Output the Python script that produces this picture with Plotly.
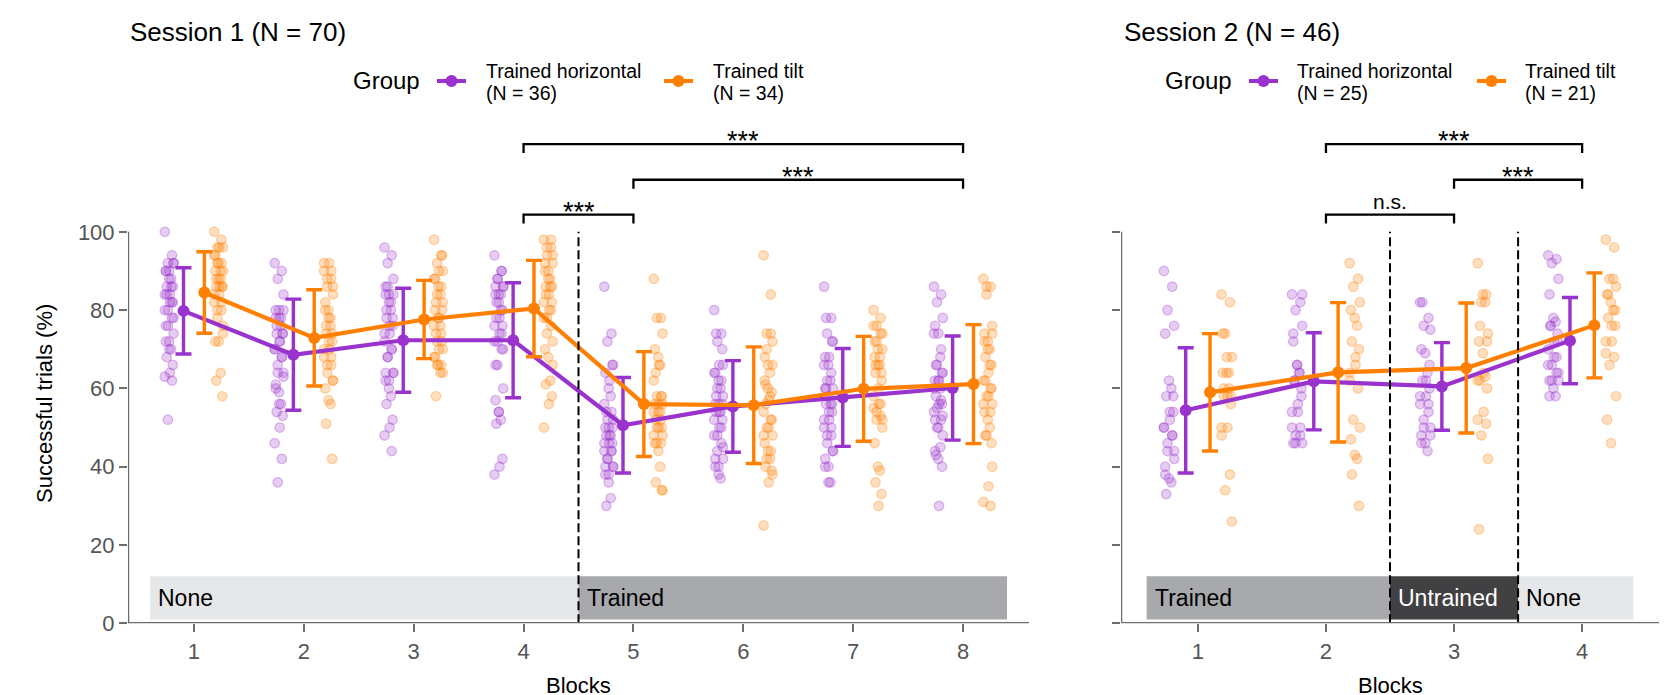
import plotly.graph_objects as go

# ---------------- data ----------------
BLOCKS_S1 = [1, 2, 3, 4, 5, 6, 7, 8]
BLOCKS_S2 = [1, 2, 3, 4]
GROUPS = ["Trained horizontal", "Trained tilt"]
S1_N = [36, 34]
S2_N = [25, 21]

S1_H_MEAN = [79.8, 68.6, 72.3, 72.3, 50.6, 55.4, 57.7, 60.1]
S1_H_SD = [11.0, 14.2, 13.3, 14.7, 12.2, 11.7, 12.5, 13.3]
S1_T_MEAN = [84.5, 72.9, 77.6, 80.4, 56.0, 55.7, 59.9, 61.1]
S1_T_SD = [10.4, 12.3, 10.0, 12.3, 13.4, 14.9, 13.4, 15.2]
S2_H_MEAN = [54.4, 61.8, 60.5, 72.2]
S2_H_SD = [16.0, 12.4, 11.2, 11.0]
S2_T_MEAN = [59.0, 64.1, 65.2, 76.1]
S2_T_SD = [15.0, 17.8, 16.6, 13.4]

S1_H_PTS = [
    [100, 94, 92, 92, 90, 88, 86, 84, 82, 82, 80, 78, 76, 74, 72, 70, 70, 68, 66, 64, 63, 62, 52, 92, 90, 90, 88, 86, 86, 84, 84, 82, 80, 78, 76, 72],
    [92, 90, 88, 84, 80, 80, 78, 76, 74, 72, 70, 68, 64, 63, 61, 59, 56, 54, 53, 50, 46, 42, 36, 80, 78, 78, 76, 74, 74, 72, 70, 68, 66, 64, 60, 56],
    [96, 94, 92, 88, 86, 84, 82, 80, 78, 76, 74, 70, 68, 64, 62, 60, 58, 56, 52, 50, 48, 44, 86, 84, 84, 82, 80, 78, 76, 74, 72, 70, 68, 64, 64, 62],
    [94, 90, 88, 86, 84, 82, 80, 78, 76, 74, 72, 70, 66, 60, 57, 54, 52, 51, 42, 40, 38, 90, 88, 86, 86, 84, 84, 82, 80, 78, 76, 74, 72, 70, 66, 54],
    [86, 74, 72, 66, 64, 60, 58, 54, 50, 48, 46, 44, 42, 40, 38, 36, 32, 30, 66, 62, 56, 54, 52, 52, 50, 50, 48, 48, 46, 46, 44, 44, 42, 40, 40, 38],
    [80, 74, 72, 66, 64, 62, 60, 58, 56, 54, 52, 50, 48, 45, 42, 40, 37, 74, 70, 66, 64, 62, 60, 58, 56, 56, 54, 54, 52, 50, 48, 46, 44, 42, 40, 38],
    [86, 78, 74, 72, 68, 66, 62, 60, 56, 54, 52, 50, 48, 44, 42, 40, 36, 78, 72, 68, 66, 64, 62, 60, 60, 58, 56, 56, 54, 52, 50, 48, 46, 44, 40, 36],
    [86, 84, 82, 78, 76, 74, 68, 66, 64, 62, 60, 57, 55, 53, 52, 50, 45, 43, 40, 30, 74, 70, 66, 64, 62, 62, 60, 58, 56, 56, 54, 52, 50, 48, 44, 42],
]
S1_T_PTS = [
    [100, 98, 96, 96, 94, 92, 90, 88, 86, 86, 84, 82, 80, 74, 72, 72, 64, 62, 58, 96, 94, 92, 92, 90, 90, 88, 88, 86, 86, 84, 82, 80, 78, 76],
    [92, 90, 88, 86, 80, 78, 76, 74, 72, 70, 68, 66, 64, 62, 60, 57, 56, 51, 42, 92, 90, 88, 86, 84, 82, 80, 78, 76, 74, 72, 70, 68, 66, 62],
    [98, 94, 92, 90, 88, 86, 84, 82, 80, 78, 76, 74, 72, 70, 68, 66, 64, 58, 94, 90, 88, 86, 84, 82, 80, 78, 76, 74, 72, 70, 68, 66, 66, 64],
    [98, 96, 94, 92, 90, 88, 86, 84, 82, 80, 78, 76, 74, 72, 70, 68, 62, 61, 58, 56, 50, 98, 96, 94, 92, 90, 88, 86, 86, 84, 82, 80, 78, 66],
    [88, 78, 78, 74, 70, 68, 66, 64, 58, 56, 54, 52, 50, 48, 46, 44, 40, 36, 34, 66, 62, 58, 58, 56, 56, 54, 54, 52, 50, 50, 48, 46, 46, 34],
    [94, 84, 74, 72, 68, 66, 64, 61, 59, 57, 54, 52, 50, 48, 46, 44, 42, 40, 39, 36, 25, 74, 70, 66, 62, 60, 58, 56, 52, 50, 48, 44, 42, 38],
    [80, 78, 76, 74, 72, 70, 68, 66, 64, 56, 55, 53, 52, 50, 46, 40, 39, 36, 33, 30, 76, 74, 72, 70, 68, 66, 66, 64, 62, 60, 58, 56, 54, 52],
    [88, 86, 84, 76, 74, 72, 70, 68, 66, 64, 62, 60, 58, 56, 54, 52, 50, 48, 46, 35, 31, 30, 86, 74, 72, 70, 66, 62, 60, 58, 56, 54, 48, 40],
]
S2_H_PTS = [
    [90, 86, 80, 76, 74, 62, 60, 58, 54, 52, 50, 48, 46, 44, 40, 37, 36, 33, 58, 54, 50, 48, 44, 42, 38],
    [84, 82, 80, 76, 74, 66, 64, 62, 58, 54, 50, 48, 46, 84, 72, 66, 64, 62, 60, 56, 54, 50, 48, 46, 46],
    [82, 78, 76, 75, 70, 69, 64, 62, 60, 58, 56, 54, 52, 50, 48, 46, 44, 82, 66, 62, 58, 56, 50, 48, 46],
    [94, 93, 92, 88, 84, 78, 77, 76, 74, 72, 70, 68, 66, 64, 62, 60, 58, 76, 72, 68, 66, 64, 62, 62, 58],
]
S2_T_PTS = [
    [84, 82, 74, 68, 64, 64, 60, 58, 56, 50, 48, 38, 34, 26, 74, 68, 64, 60, 58, 58, 50],
    [92, 88, 86, 82, 80, 78, 76, 72, 70, 66, 62, 60, 52, 50, 47, 43, 42, 38, 30, 68, 64],
    [92, 84, 82, 74, 72, 69, 63, 62, 60, 54, 52, 51, 48, 42, 24, 84, 82, 76, 72, 64, 62],
    [98, 96, 88, 86, 84, 82, 80, 78, 76, 72, 69, 68, 66, 58, 52, 46, 88, 84, 80, 76, 72],
]

Y_TICKS = [0, 20, 40, 60, 80, 100]

# condition bands: (start, end, label)
S1_BANDS = [(0.6, 4.5, "None"), (4.5, 8.4, "Trained")]
S2_BANDS = [(0.6, 2.5, "Trained"), (2.5, 3.5, "Untrained"), (3.5, 4.4, "None")]
S1_DIVIDERS = [4.5]
S2_DIVIDERS = [2.5, 3.5]

# significance brackets: (x_from, x_to, level y, label)
S1_SIG = [(4, 8, 122.4, "***"), (5, 8, 113.3, "***"), (4, 5, 104.4, "***")]
S2_SIG = [(2, 4, 122.4, "***"), (3, 4, 113.3, "***"), (2, 3, 104.4, "n.s.")]

# ---------------- style ----------------
W, H = 1668, 695
FONT = "Liberation Sans, Arial, Helvetica, sans-serif"
PURPLE = "#9A32CD"
ORANGE = "#FF7F00"
PURPLE_A = "rgba(154,50,205,0.25)"
ORANGE_A = "rgba(255,127,0,0.25)"
PURPLE_L = "rgba(154,50,205,0.32)"
ORANGE_L = "rgba(255,127,0,0.32)"
AXIS_COL = "#6E6E6E"
TICK_TXT = "#555555"
BAND_COLS = {"None": "#E6E7E8", "Trained": "#A7A9AC", "Untrained": "#414042"}
BAND_TXT = {"None": "black", "Trained": "black", "Untrained": "white"}
JIT = [-0.04, 0.025, -0.012, 0.04, -0.03, 0.0, 0.018, -0.022, 0.033, 0.006]
PT_OFF = 0.225
MEAN_OFF = 0.095

Y0_PX = 615.3
PX_PER_UNIT = 3.915
Y_RANGE = [0, 130]
ydom = [1 - Y0_PX / H, 1 - (Y0_PX - Y_RANGE[1] * PX_PER_UNIT) / H]


def px(x):
    return x / W


def py(y):
    return 1 - y / H


fig = go.Figure()


def add_panel(xa, ya, blocks, h_pts, t_pts, h_mean, h_sd, t_mean, t_sd):
    for pts, sgn, fc, lc in [(h_pts, -1, PURPLE_A, PURPLE_L), (t_pts, 1, ORANGE_A, ORANGE_L)]:
        xs, ys = [], []
        for b, vals in zip(blocks, pts):
            for i, v in enumerate(vals):
                xs.append(b + sgn * PT_OFF + JIT[i % len(JIT)])
                ys.append(v)
        fig.add_trace(go.Scatter(
            x=xs, y=ys, mode="markers", xaxis=xa, yaxis=ya, showlegend=False,
            marker=dict(size=9.5, color=fc, line=dict(color=lc, width=1.2)),
            hoverinfo="skip"))
    for mean, sd, sgn, col in [(h_mean, h_sd, -1, PURPLE), (t_mean, t_sd, 1, ORANGE)]:
        fig.add_trace(go.Scatter(
            x=[b + sgn * MEAN_OFF for b in blocks], y=mean, mode="lines+markers",
            xaxis=xa, yaxis=ya, showlegend=False,
            line=dict(color=col, width=4.2),
            marker=dict(size=12, color=col),
            error_y=dict(type="data", array=sd, color=col, thickness=3.4, width=8)))


add_panel("x", "y", BLOCKS_S1, S1_H_PTS, S1_T_PTS, S1_H_MEAN, S1_H_SD, S1_T_MEAN, S1_T_SD)
add_panel("x2", "y2", BLOCKS_S2, S2_H_PTS, S2_T_PTS, S2_H_MEAN, S2_H_SD, S2_T_MEAN, S2_T_SD)

shapes = []
annotations = []


def panel_decor(xr, yr, xrange, bands, dividers, sigs):
    for x0, x1, lab in bands:
        shapes.append(dict(type="rect", xref=xr, yref=yr, x0=x0, x1=x1, y0=1, y1=12,
                           fillcolor=BAND_COLS[lab], line=dict(width=0), layer="below"))
        annotations.append(dict(xref=xr, yref=yr, x=x0, y=6.5, text=lab, showarrow=False,
                                xanchor="left", yanchor="middle", xshift=6,
                                font=dict(family=FONT, size=23, color=BAND_TXT[lab])))
    for d in dividers:
        shapes.append(dict(type="line", xref=xr, yref=yr, x0=d, x1=d, y0=0, y1=100,
                           line=dict(color="black", width=2, dash="9px,4px")))
    shapes.append(dict(type="line", xref=xr, yref=yr, x0=xrange[0], x1=xrange[1], y0=0, y1=0,
                       line=dict(color=AXIS_COL, width=2.5)))
    shapes.append(dict(type="line", xref=xr, yref=yr, x0=xrange[0], x1=xrange[0], y0=0, y1=100,
                       line=dict(color=AXIS_COL, width=2.5)))
    for a, b, lvl, lab in sigs:
        shapes.append(dict(type="path", xref=xr, yref=yr,
                           path=f"M {a},{lvl - 2.3} L {a},{lvl} L {b},{lvl} L {b},{lvl - 2.3}",
                           line=dict(color="black", width=2.3)))
        if lab == "***":
            annotations.append(dict(xref=xr, yref=yr, x=(a + b) / 2, y=lvl, text=lab, showarrow=False,
                                    xanchor="center", yanchor="middle", yshift=3,
                                    font=dict(family=FONT, size=27, color="black")))
        else:
            annotations.append(dict(xref=xr, yref=yr, x=(a + b) / 2, y=lvl, text=lab, showarrow=False,
                                    xanchor="center", yanchor="middle", yshift=13,
                                    font=dict(family=FONT, size=21, color="black")))


panel_decor("x", "y", [0.4, 8.6], S1_BANDS, S1_DIVIDERS, S1_SIG)
panel_decor("x2", "y2", [0.4, 4.6], S2_BANDS, S2_DIVIDERS, S2_SIG)


def legend_block(x_title, title, x_group, x_key1, x_txt1, x_key2, x_txt2, n_list):
    annotations.append(dict(xref="paper", yref="paper", x=px(x_title), y=py(24), text=title,
                            showarrow=False, xanchor="left", yanchor="middle",
                            font=dict(family=FONT, size=26, color="black")))
    annotations.append(dict(xref="paper", yref="paper", x=px(x_group), y=py(73), text="Group",
                            showarrow=False, xanchor="left", yanchor="middle",
                            font=dict(family=FONT, size=24, color="black")))
    for xk, xt, col, g, n in [(x_key1, x_txt1, PURPLE, GROUPS[0], n_list[0]),
                              (x_key2, x_txt2, ORANGE, GROUPS[1], n_list[1])]:
        shapes.append(dict(type="line", xref="paper", yref="paper", x0=px(xk), x1=px(xk + 29),
                           y0=py(73), y1=py(73), line=dict(color=col, width=4)))
        shapes.append(dict(type="circle", xref="paper", yref="paper", xsizemode="pixel",
                           ysizemode="pixel", xanchor=px(xk + 14.5), yanchor=py(73),
                           x0=-6, x1=6, y0=-6, y1=6, fillcolor=col, line=dict(width=0)))
        annotations.append(dict(xref="paper", yref="paper", x=px(xt), y=py(63), text=g,
                                showarrow=False, xanchor="left", yanchor="middle",
                                font=dict(family=FONT, size=19.5, color="black")))
        annotations.append(dict(xref="paper", yref="paper", x=px(xt), y=py(85.5), text=f"(N = {n})",
                                showarrow=False, xanchor="left", yanchor="middle",
                                font=dict(family=FONT, size=19.5, color="black")))


legend_block(120, "Session 1 (N = 70)", 343, 429, 476, 656, 703, S1_N)
legend_block(1114, "Session 2 (N = 46)", 1155, 1241, 1287, 1469, 1515, S2_N)

annotations.append(dict(xref="paper", yref="paper", x=px(36), y=py(396), text="Successful trials (%)",
                        showarrow=False, textangle=-90, xanchor="center", yanchor="middle",
                        font=dict(family=FONT, size=22, color="black")))
for xc in [570, 1382]:
    annotations.append(dict(xref="paper", yref="paper", x=px(xc), y=py(677), text="Blocks",
                            showarrow=False, xanchor="center", yanchor="middle",
                            font=dict(family=FONT, size=22, color="black")))

axis_common = dict(showline=False, showgrid=False, zeroline=False, ticks="outside", ticklen=8,
                   tickwidth=2, tickcolor=AXIS_COL, automargin=False,
                   tickfont=dict(family=FONT, size=22, color=TICK_TXT))

fig.update_layout(
    width=W, height=H, margin=dict(l=0, r=0, t=0, b=0),
    paper_bgcolor="white", plot_bgcolor="white", showlegend=False,
    xaxis=dict(domain=[px(120), px(1021)], range=[0.4, 8.6], tickvals=BLOCKS_S1, anchor="y", **axis_common),
    yaxis=dict(domain=ydom, range=Y_RANGE, tickvals=Y_TICKS, anchor="x", **axis_common),
    xaxis2=dict(domain=[px(1113), px(1651)], range=[0.4, 4.6], tickvals=BLOCKS_S2, anchor="y2", **axis_common),
    yaxis2=dict(domain=ydom, range=Y_RANGE, tickvals=Y_TICKS, anchor="x2", showticklabels=False,
                **axis_common),
    shapes=shapes, annotations=annotations,
)

fig.write_html("out.html")
